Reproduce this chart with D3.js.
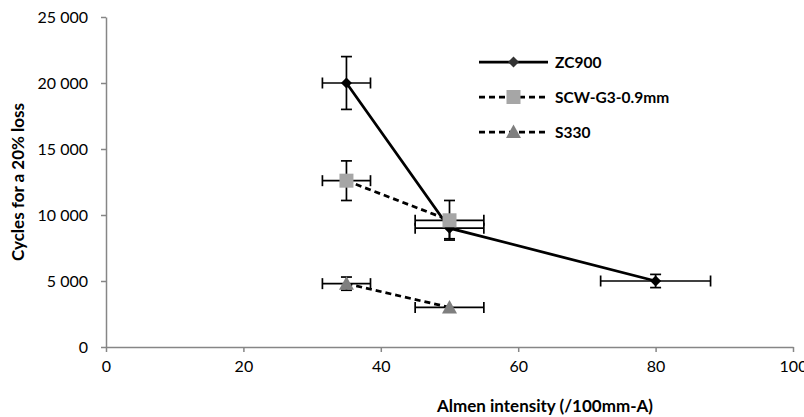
<!DOCTYPE html>
<html><head><meta charset="utf-8">
<script src="https://cdn.jsdelivr.net/npm/d3@7"></script>
<style>body{margin:0;background:#fff}svg{display:block}</style>
</head><body><svg id="c" width="804" height="417"></svg>
<script>
const xTicks=[0,20,40,60,80,100];
const yTicks=[0,5000,10000,15000,20000,25000];
const seriesNames=["ZC900","SCW-G3-0.9mm","S330"];
const zcX=[35,50,80], zcY=[20000,9000,5000], zcXErr=[3.5,5,8], zcYErr=[2000,800,500];
const scwX=[35,50], scwY=[12600,9600], scwXErr=[3.5,5], scwYErr=[1500,1500];
const s3X=[35,50], s3Y=[4800,3000], s3XErr=[3.5,5], s3YErr=[500,0];

const series=[
 {name:seriesNames[0],x:zcX,y:zcY,ex:zcXErr,ey:zcYErr,dash:null,marker:"diamond",fill:"#000"},
 {name:seriesNames[1],x:scwX,y:scwY,ex:scwXErr,ey:scwYErr,dash:"6,4",marker:"square",fill:"#A6A6A6"},
 {name:seriesNames[2],x:s3X,y:s3Y,ex:s3XErr,ey:s3YErr,dash:"6,4",marker:"triangle",fill:"#7F7F7F"}
];
const font="Lato, 'Open Sans', sans-serif";
const svg=d3.select("#c");
const x=d3.scaleLinear().domain([0,100]).range([106,793]);
const y=d3.scaleLinear().domain([0,25000]).range([347,17]);
const fmt=v=>d3.format(",")(v).replace(/,/g," ");

const gx=svg.append("g").attr("transform","translate(0,347)")
 .call(d3.axisBottom(x).tickValues(xTicks).tickSize(5).tickSizeOuter(0).tickPadding(9));
const gy=svg.append("g").attr("transform","translate(106,0)")
 .call(d3.axisLeft(y).tickValues(yTicks).tickSize(5).tickSizeOuter(0).tickFormat(fmt).tickPadding(13));
[gx,gy].forEach(g=>{
 g.select(".domain").attr("stroke","#868686").attr("stroke-width",1.5);
 g.selectAll(".tick line").attr("stroke","#868686").attr("stroke-width",1.5);
 g.selectAll("text").attr("font-family",font).attr("font-size",16).attr("fill","#000");
});

svg.append("text").attr("x",545).attr("y",412).attr("text-anchor","middle")
 .attr("font-family",font).attr("font-weight","bold").attr("font-size",17).text("Almen intensity (/100mm-A)");
svg.append("text").attr("transform","translate(24,182) rotate(-90)").attr("text-anchor","middle")
 .attr("font-family",font).attr("font-weight","bold").attr("font-size",17).text("Cycles for a 20% loss");

const line=d3.line().x(d=>x(d[0])).y(d=>y(d[1]));
series.forEach(s=>{
 const pts=s.x.map((v,i)=>[v,s.y[i]]);
 svg.append("path").attr("d",line(pts)).attr("fill","none").attr("stroke","#000")
  .attr("stroke-width",2.75).attr("stroke-dasharray",s.dash);
});
const cap=5.5;
series.forEach(s=>{
 const g=svg.append("g").attr("stroke","#000").attr("stroke-width",1.7);
 s.x.forEach((v,i)=>{
  const cx=x(v), cy=y(s.y[i]);
  const x1=x(v-s.ex[i]), x2=x(v+s.ex[i]);
  g.append("line").attr("x1",x1).attr("x2",x2).attr("y1",cy).attr("y2",cy);
  g.append("line").attr("x1",x1).attr("x2",x1).attr("y1",cy-cap).attr("y2",cy+cap);
  g.append("line").attr("x1",x2).attr("x2",x2).attr("y1",cy-cap).attr("y2",cy+cap);
  if(s.ey[i]>0){
   const y1=y(s.y[i]+s.ey[i]), y2=y(s.y[i]-s.ey[i]);
   g.append("line").attr("x1",cx).attr("x2",cx).attr("y1",y1).attr("y2",y2);
   g.append("line").attr("x1",cx-cap).attr("x2",cx+cap).attr("y1",y1).attr("y2",y1);
   g.append("line").attr("x1",cx-cap).attr("x2",cx+cap).attr("y1",y2).attr("y2",y2);
  }
 });
});
function marker(g,type,cx,cy,fill){
 if(type==="diamond") g.append("path").attr("d",`M${cx},${cy-5.5}L${cx+5.5},${cy}L${cx},${cy+5.5}L${cx-5.5},${cy}Z`).attr("fill",fill);
 else if(type==="square") g.append("rect").attr("x",cx-7).attr("y",cy-7).attr("width",14).attr("height",14).attr("fill",fill);
 else g.append("path").attr("d",`M${cx},${cy-7.5}L${cx+7.5},${cy+6}L${cx-7.5},${cy+6}Z`).attr("fill",fill);
}
series.forEach(s=>{
 const g=svg.append("g");
 s.x.forEach((v,i)=>marker(g,s.marker,x(v),y(s.y[i]),s.fill));
});
// legend
const legY=[62,97,132];
series.forEach((s,i)=>{
 const g=svg.append("g");
 g.append("line").attr("x1",479).attr("x2",548).attr("y1",legY[i]).attr("y2",legY[i])
  .attr("stroke","#000").attr("stroke-width",2.75).attr("stroke-dasharray",s.dash);
 marker(g,s.marker,513.5,legY[i],s.marker==="diamond"?"#333":s.fill);
 g.append("text").attr("x",555).attr("y",legY[i]+5.5).attr("font-family",font)
  .attr("font-weight","bold").attr("font-size",15.5).text(s.name);
});
</script></body></html>
